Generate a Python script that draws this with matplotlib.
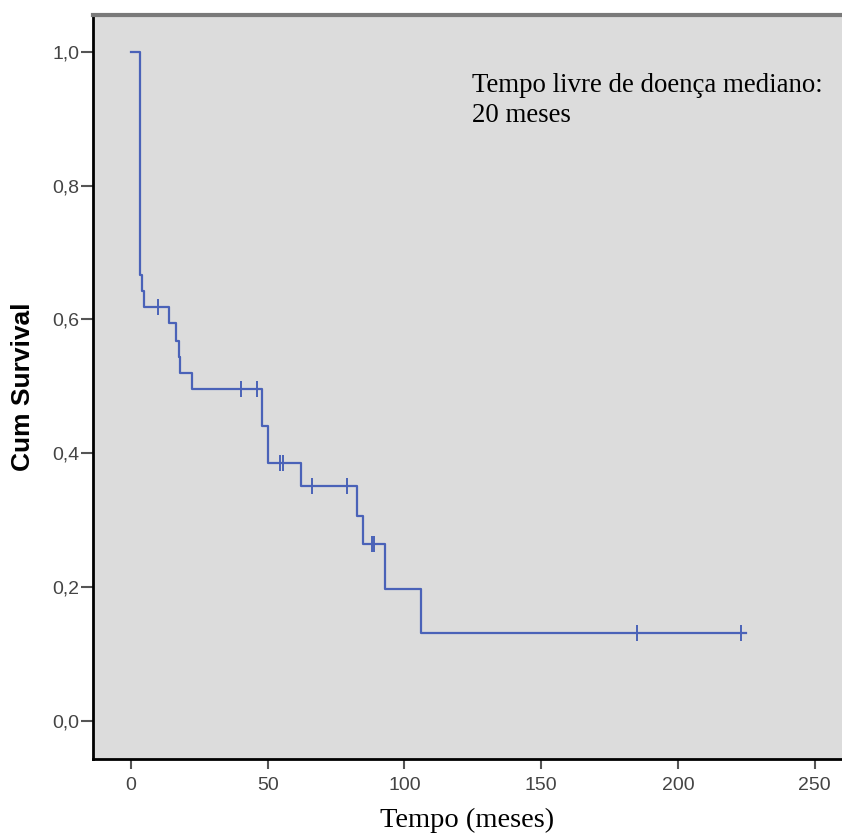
import numpy as np
import matplotlib.pyplot as plt

# Kaplan-Meier step values (time in months)
event_times = [0, 3.3, 4.1, 4.9, 14.0, 16.5, 17.4, 17.9, 22.2, 47.8, 50.2, 62.2, 82.8, 85.0, 92.9, 105.9, 225.0]
survival = [1.0, 0.667, 0.643, 0.619, 0.595, 0.568, 0.544, 0.520, 0.496, 0.441, 0.385, 0.351, 0.306, 0.264, 0.197, 0.131, 0.131]

# censored observations
censor_times = [10.0, 40.1, 46.2, 54.5, 55.7, 66.1, 78.8, 88.0, 88.8, 185.1, 222.9]
censor_surv = [0.619, 0.496, 0.496, 0.385, 0.385, 0.351, 0.351, 0.264, 0.264, 0.131, 0.131]

y_ticks = [0.0, 0.2, 0.4, 0.6, 0.8, 1.0]
y_tick_labels = ['0,0', '0,2', '0,4', '0,6', '0,8', '1,0']
x_ticks = [0, 50, 100, 150, 200, 250]

line_color = '#4a62b8'

fig = plt.figure(figsize=(8.42, 8.35), dpi=100)
ax = fig.add_axes([0.1105, 0.091, 0.8895, 0.891])
ax.set_facecolor('#dcdcdc')

ax.step(event_times, survival, where='post', color=line_color, lw=1.6)
ax.plot(censor_times, censor_surv, linestyle='none', marker='|', markersize=11,
        markeredgewidth=1.4, color=line_color)

ax.set_xlim(-13.9, 260)
ax.set_ylim(-0.057, 1.055)

ax.set_yticks(y_ticks)
ax.set_yticklabels(y_tick_labels)
ax.set_xticks(x_ticks)

for lab in ax.get_xticklabels() + ax.get_yticklabels():
    lab.set_family('Liberation Sans')
    lab.set_fontsize(14)
    lab.set_color('#444444')

ax.tick_params(axis='x', direction='out', length=7, width=1.5, color='#555555', pad=6)
ax.tick_params(axis='y', direction='out', length=9, width=1.5, color='#555555', pad=1)

ax.spines['left'].set_color('black')
ax.spines['left'].set_linewidth(2)
ax.spines['bottom'].set_color('black')
ax.spines['bottom'].set_linewidth(2)
ax.spines['top'].set_color('#7a7a7a')
ax.spines['top'].set_linewidth(3)
ax.spines['right'].set_visible(False)

ax.set_xlabel('Tempo (meses)', family='Liberation Serif', fontsize=20.5, labelpad=10)
ax.set_ylabel('Cum Survival', family='Liberation Sans', fontsize=19, fontweight='bold', labelpad=12)

ax.text(124.7, 0.969, 'Tempo livre de doença mediano:\n20 meses', family='Liberation Serif',
        fontsize=19.4, va='top', ha='left', linespacing=1.27)

plt.savefig('out.png', dpi=100)
plt.close()
